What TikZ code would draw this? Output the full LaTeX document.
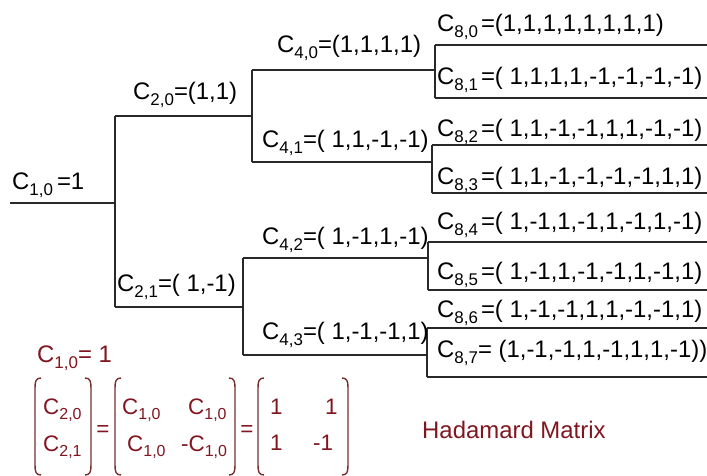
\documentclass[tikz,border=0pt]{standalone}
\usepackage{fontspec}
\setmainfont{Liberation Sans}
\definecolor{mred}{RGB}{128,22,32}
\definecolor{bred}{RGB}{120,45,45}
\definecolor{wirec}{RGB}{40,40,40}
\newcommand\sbx[1]{\raisebox{-6bp}{\fontsize{17}{17}\selectfont #1}}
\newcommand\sbm[1]{\raisebox{-5bp}{\fontsize{16}{16}\selectfont #1}}
\newcommand\lbrk[3]{\draw[brk] (#1+6,#2) .. controls (#1+1,#2) and (#1,#2+3) .. (#1,#2+10) -- (#1,#3-10) .. controls (#1,#3-3) and (#1+1,#3) .. (#1+6,#3);}
\newcommand\rbrk[3]{\draw[brk] (#1-6,#2) .. controls (#1-1,#2) and (#1,#2+3) .. (#1,#2+10) -- (#1,#3-10) .. controls (#1,#3-3) and (#1-1,#3) .. (#1-6,#3);}
\begin{document}
\begin{tikzpicture}[x=1bp,y=-1bp,
  lbl/.style={anchor=base west, inner sep=0, font=\fontsize{24}{28}\selectfont},
  mlbl/.style={anchor=base west, inner sep=0, text=mred, font=\fontsize{22.5}{24}\selectfont},
  wire/.style={line width=1.1bp, draw=wirec},
  brk/.style={line width=1.4bp, draw=bred}]
\useasboundingbox (0,0) rectangle (707,476);
\fill[white] (0,0) rectangle (707,476);

% junction coordinates
\coordinate (r0) at (10,203);
\coordinate (r1) at (115,203);
\coordinate (a0) at (115,116);
\coordinate (a1) at (115,307);
\coordinate (b0) at (252,116);
\coordinate (b0t) at (252,70);
\coordinate (b0b) at (252,162);
\coordinate (b1) at (243,307);
\coordinate (b1t) at (243,258);
\coordinate (b1b) at (243,355);
\coordinate (c0) at (435,70);
\coordinate (c0t) at (435,45);
\coordinate (c0b) at (435,98);
\coordinate (c1) at (432,162);
\coordinate (c1t) at (432,145);
\coordinate (c1b) at (432,193);
\coordinate (c2) at (428,258);
\coordinate (c2t) at (428,242);
\coordinate (c2b) at (428,290);
\coordinate (c3) at (427,355);
\coordinate (c3t) at (427,328);
\coordinate (c3b) at (427,377);
\coordinate (e0) at (707,45);
\coordinate (e1) at (707,98);
\coordinate (e2) at (707,145);
\coordinate (e3) at (707,193);
\coordinate (e4) at (707,242);
\coordinate (e5) at (707,290);
\coordinate (e6) at (707,328);
\coordinate (e7) at (707,377);

% wires
\draw[wire] (r0) -- (r1);
\draw[wire] (a0) -- (a1);
\draw[wire] (a0) -- (b0);
\draw[wire] (a1) -- (b1);
\draw[wire] (b0t) -- (b0b);
\draw[wire] (b1t) -- (b1b);
\draw[wire] (b0t) -- (c0);
\draw[wire] (b0b) -- (c1);
\draw[wire] (b1t) -- (c2);
\draw[wire] (b1b) -- (c3);
\draw[wire] (c0t) -- (c0b);
\draw[wire] (c1t) -- (c1b);
\draw[wire] (c2t) -- (c2b);
\draw[wire] (c3t) -- (c3b);
\draw[wire] (c0t) -- (e0);
\draw[wire] (c0b) -- (e1);
\draw[wire] (c1t) -- (e2);
\draw[wire] (c1b) -- (e3);
\draw[wire] (c2t) -- (e4);
\draw[wire] (c2b) -- (e5);
\draw[wire] (c3t) -- (e6);
\draw[wire] (c3b) -- (e7);

% tree labels
\node[lbl] (l10) at (12,190) {C\sbx{1,0}\hspace{4bp}=1};
\node[lbl] (l20) at (133,100) {C\sbx{2,0}=(1,1)};
\node[lbl] (l21) at (117,292) {C\sbx{2,1}=( 1,-1)};
\node[lbl] (l40) at (277,53) {C\sbx{4,0}=(1,1,1,1)};
\node[lbl] (l41) at (262,148) {C\sbx{4,1}=( 1,1,-1,-1)};
\node[lbl] (l42) at (262,245) {C\sbx{4,2}=( 1,-1,1,-1)};
\node[lbl] (l43) at (262,340) {C\sbx{4,3}=( 1,-1,-1,1)};
\node[lbl] (l80) at (437,32) {C\sbx{8,0}\hspace{3bp}=(1,1,1,1,1,1,1,1)};
\node[lbl] (l81) at (437,85) {C\sbx{8,1}\hspace{3bp}=( 1,1,1,1,-1,-1,-1,-1)};
\node[lbl] (l82) at (437,137) {C\sbx{8,2}\hspace{3bp}=( 1,1,-1,-1,1,1,-1,-1)};
\node[lbl] (l83) at (437,185) {C\sbx{8,3}\hspace{3bp}=( 1,1,-1,-1,-1,-1,1,1)};
\node[lbl] (l84) at (437,230) {C\sbx{8,4}\hspace{3bp}=( 1,-1,1,-1,1,-1,1,-1)};
\node[lbl] (l85) at (437,280) {C\sbx{8,5}\hspace{3bp}=( 1,-1,1,-1,-1,1,-1,1)};
\node[lbl] (l86) at (437,318) {C\sbx{8,6}\hspace{3bp}=( 1,-1,-1,1,1,-1,-1,1)};
\node[lbl] (l87) at (437,357) {C\sbx{8,7}= (1,-1,-1,1,-1,1,1,-1))};

% red part
\node[lbl, text=mred] (r10) at (37,362) {C\sbx{1,0}= 1};
\lbrk{35}{378}{475}
\rbrk{91}{378}{475}
\node[mlbl] (m11) at (43,414) {C\sbm{2,0}};
\node[mlbl] (m21) at (43,451) {C\sbm{2,1}};
\node[mlbl, anchor=center] (eq1) at (103,431) {=};
\lbrk{115}{378}{475}
\rbrk{235}{378}{475}
\node[mlbl] (n11) at (122,414) {C\sbm{1,0}};
\node[mlbl] (n12) at (188,414) {C\sbm{1,0}};
\node[mlbl] (n21) at (127,451) {C\sbm{1,0}};
\node[mlbl] (n22) at (181,451) {-C\sbm{1,0}};
\node[mlbl, anchor=center] (eq2) at (247,431) {=};
\lbrk{258}{378}{475}
\rbrk{348}{378}{475}
\node[mlbl] (p11) at (270,414) {1};
\node[mlbl] (p12) at (325,414) {1};
\node[mlbl] (p21) at (270,450) {1};
\node[mlbl] (p22) at (313,450) {-1};
\node[lbl, text=mred] (had) at (422,438) {Hadamard Matrix};
\end{tikzpicture}
\end{document}
